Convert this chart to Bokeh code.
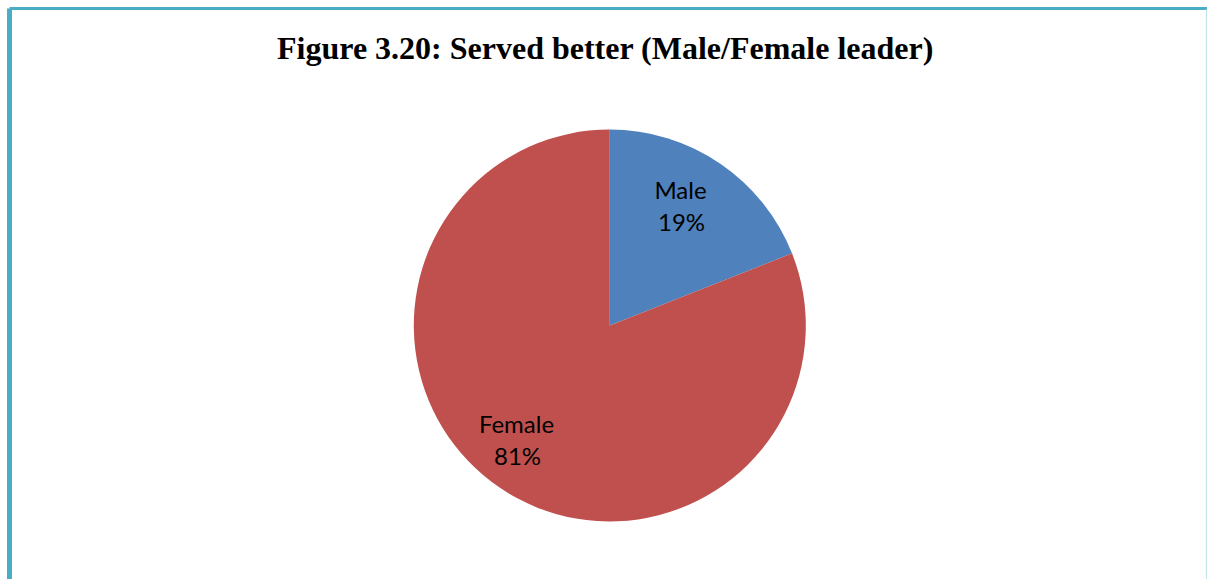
import math
from bokeh.plotting import figure
from bokeh.models import Range1d, ColumnDataSource
from bokeh.core.properties import value
from bokeh.embed import file_html
from bokeh.resources import INLINE

title_text = "Figure  3.20: Served better (Male/Female leader)"
categories = ["Male", "Female"]
percents = [19, 81]
colors = ["#4F81BD", "#C0504D"]

W, H = 1207, 579
p = figure(width=W, height=H, output_backend="svg", toolbar_location=None,
           x_range=Range1d(0, W), y_range=Range1d(0, H), min_border=0)
p.axis.visible = False
p.grid.visible = False
p.outline_line_color = None
p.background_fill_color = "white"
p.border_fill_color = "white"

# frame lines (top and left thick, right thin)
p.line(x=[9, W], y=[H - 8, H - 8], line_color="#4BACC6", line_width=3)
p.line(x=[9, 9], y=[0, H - 8], line_color="#4BACC6", line_width=5)
p.line(x=[W - 1, W - 1], y=[0, H - 9], line_color="#C5E6EE", line_width=1.5)

cx, cy, r = 609.3, H - 325, 196
total = sum(percents)
starts, ends = [], []
acc = 0.0
for v in percents:
    a0 = math.pi / 2 - 2 * math.pi * acc / total
    acc += v
    a1 = math.pi / 2 - 2 * math.pi * acc / total
    starts.append(a1)
    ends.append(a0)
src = ColumnDataSource(dict(start=starts, end=ends, color=colors,
                            cat=categories, pct=[f"{v}%" for v in percents]))
p.wedge(x=cx, y=cy, radius=r, start_angle="start", end_angle="end",
        fill_color="color", line_color=None, source=src)

# labels (baseline positions)
label_pos = [(680, 189), (516, 423)]
for (lx, ly), c, v in zip(label_pos, categories, percents):
    p.text(x=[lx], y=[H - ly], text=[c], text_font=value("Lato"),
           text_font_size="24px", text_align="center", text_baseline="alphabetic",
           text_color="black")
    p.text(x=[lx + 1], y=[H - ly - 32], text=[f"{v}%"], text_font=value("Lato"),
           text_font_size="24px", text_align="center", text_baseline="alphabetic",
           text_color="black")

p.text(x=[609], y=[H - 47], text=[title_text], text_font=value("Liberation Serif"),
       text_font_style="bold", text_font_size="32px", text_align="center",
       text_baseline="alphabetic", text_color="black")

open("out.html", "w").write(file_html(p, INLINE))
